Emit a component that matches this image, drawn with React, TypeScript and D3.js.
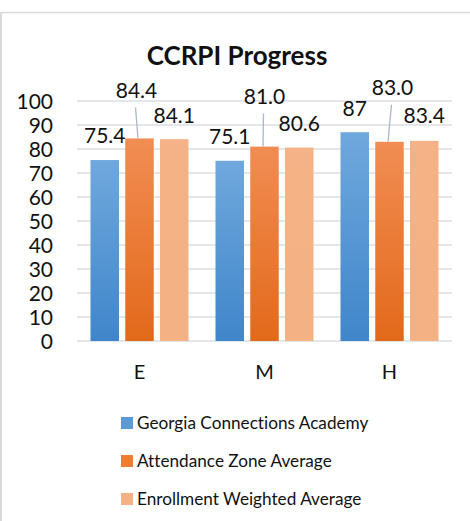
import React from "react";
import * as d3 from "d3";

const categories = ["E", "M", "H"];
const seriesNames = ["Georgia Connections Academy", "Attendance Zone Average", "Enrollment Weighted Average"];
const gcaValues = [75.4, 75.1, 87];
const attendanceValues = [84.4, 81.0, 83.0];
const enrollmentValues = [84.1, 80.6, 83.4];
const valueLabels = [
  ["75.4", "75.1", "87"],
  ["84.4", "81.0", "83.0"],
  ["84.1", "80.6", "83.4"],
];
const yTicks = [0, 10, 20, 30, 40, 50, 60, 70, 80, 90, 100];

// label layout (pixel offsets of label centre from bar top), [series][category]
const labelDy = [
  [-25, -24, -24],
  [-48, -50, -54],
  [-24, -24, -25],
];
const labelDx = [
  [0, 0, 0],
  [-3, 0, 3],
  [0, 0, 0],
];
const hasLeader = [false, true, false];

const W = 470;
const H = 521;
const FONT = "Lato, 'Open Sans', sans-serif";

export default function App() {
  const series = [gcaValues, attendanceValues, enrollmentValues];
  const x = d3.scaleBand<string>().domain(categories).range([77, 452]).paddingInner(0).paddingOuter(0);
  const xs = d3
    .scaleBand<number>()
    .domain([0, 1, 2])
    .range([13.5, x.bandwidth() - 13.5])
    .paddingInner(0.18);
  const y = d3.scaleLinear().domain([0, 100]).range([341, 101]);
  const fills = ["url(#gBlue)", "url(#gOrange)", "url(#gLight)"];
  const legendFills = ["#5b9bd5", "#ed7d31", "#f4b183"];

  return (
    <svg
      width={W}
      height={H}
      style={{ position: "absolute", left: 0, top: 0, background: "#fff" }}
      fontFamily={FONT}
    >
      <defs>
        <linearGradient id="gBlue" x1="0" y1="0" x2="0" y2="1">
          <stop offset="0" stopColor="#70a8dd" />
          <stop offset="1" stopColor="#3f86ca" />
        </linearGradient>
        <linearGradient id="gOrange" x1="0" y1="0" x2="0" y2="1">
          <stop offset="0" stopColor="#f18d53" />
          <stop offset="1" stopColor="#e3691a" />
        </linearGradient>
        <linearGradient id="gLight" x1="0" y1="0" x2="0" y2="1">
          <stop offset="0" stopColor="#f4b286" />
          <stop offset="1" stopColor="#f4b183" />
        </linearGradient>
      </defs>
      <rect x={0} y={0} width={W} height={H} fill="#fff" />
      {/* chart border */}
      <line x1={0} x2={W} y1={12.5} y2={12.5} stroke="#d9d9d9" strokeWidth={1.5} />
      <line x1={1} x2={1} y1={12} y2={H} stroke="#d9d9d9" strokeWidth={2} />

      <text x={237} y={65} textAnchor="middle" fontSize={26} fontWeight="bold" fill="#111">
        CCRPI Progress
      </text>

      {yTicks.map((t) => (
        <g key={t}>
          <line x1={77} x2={452} y1={y(t)} y2={y(t)} stroke="#dadee4" strokeWidth={1.3} />
          <text x={53} y={y(t)} dy="0.36em" textAnchor="end" fontSize={21} fill="#111">
            {t}
          </text>
        </g>
      ))}

      {series.map((vals, si) =>
        categories.map((c, ci) => {
          const bx = (x(c) as number) + (xs(si) as number);
          const bw = xs.bandwidth();
          return (
            <rect key={`${si}-${ci}`} x={bx} y={y(vals[ci])} width={bw} height={y(0) - y(vals[ci])} fill={fills[si]} />
          );
        })
      )}

      {series.map((vals, si) =>
        categories.map((c, ci) => {
          const cx = (x(c) as number) + (xs(si) as number) + xs.bandwidth() / 2;
          const top = y(vals[ci]);
          const lx = cx + labelDx[si][ci];
          const ly = top + labelDy[si][ci];
          return (
            <g key={`l-${si}-${ci}`}>
              {hasLeader[si] && (
                <line x1={lx - 1} y1={ly + 17} x2={cx - 1.5} y2={top} stroke="#a9b7c9" strokeWidth={1.3} />
              )}
              <text x={lx} y={ly} dy="0.36em" textAnchor="middle" fontSize={21} fill="#111">
                {valueLabels[si][ci]}
              </text>
            </g>
          );
        })
      )}

      {categories.map((c) => (
        <text key={c} x={(x(c) as number) + x.bandwidth() / 2} y={379} textAnchor="middle" fontSize={20} fill="#111">
          {c}
        </text>
      ))}

      {seriesNames.map((name, i) => (
        <g key={name} transform={`translate(121, ${423 + i * 38})`}>
          <rect x={0} y={-6} width={12} height={12} fill={legendFills[i]} />
          <text x={16} y={0} dy="0.36em" fontSize={17.2} fill="#111" style={{ fontVariantLigatures: "none" }}>
            {name}
          </text>
        </g>
      ))}
    </svg>
  );
}
